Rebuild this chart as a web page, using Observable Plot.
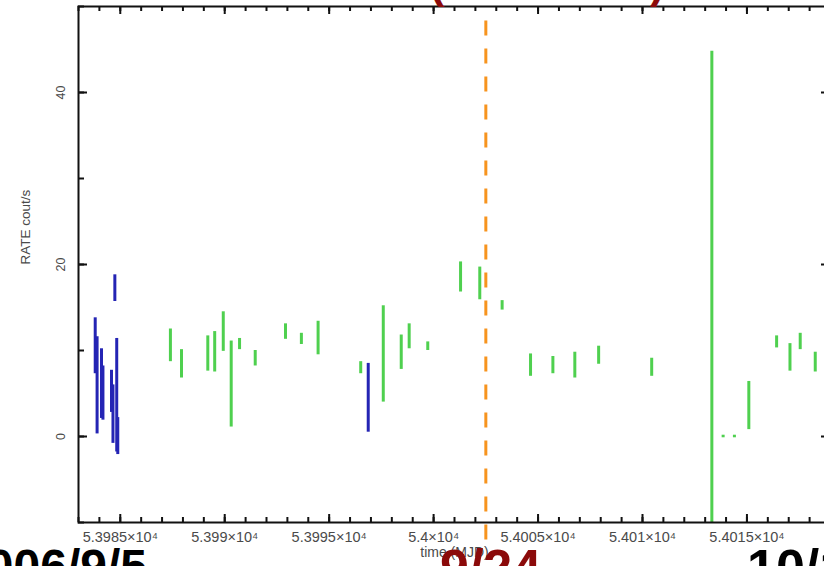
<!DOCTYPE html>
<html>
<head>
<meta charset="utf-8">
<script src="https://cdn.jsdelivr.net/npm/d3@7"></script>
<script src="https://cdn.jsdelivr.net/npm/@observablehq/plot@0.6"></script>
<style>
  html, body { margin: 0; padding: 0; background: #fff; overflow: hidden; width: 824px; height: 566px; }
  #wrap { position: relative; width: 824px; height: 566px; overflow: hidden; }
  #wrap svg { position: absolute; left: 0; top: 0; }
  .big { position: absolute; font-family: "Liberation Sans", Arial, sans-serif; font-weight: bold;
         font-size: 52px; line-height: 52px; white-space: nowrap; }
</style>
</head>
<body>
<div id="wrap"></div>
<script>
// Light curve: count rate (counts/s) vs. time (MJD), error bars only
const blueTime = [53983.80, 53983.89, 53984.10, 53984.17, 53984.58, 53984.65, 53984.74, 53984.83, 53984.88, 53996.87];
const blueLo   = [7.3, 0.3, 2.1, 1.9, 2.8, -0.8, 15.7, -1.8, -2.1, 0.5];
const blueHi   = [13.8, 11.6, 10.2, 8.2, 7.7, 6.0, 18.8, 11.4, 2.2, 8.5];

const greenTime = [53987.40, 53987.93, 53989.19, 53989.52, 53989.93, 53990.31, 53990.71, 53991.46,
                   53992.91, 53993.67, 53994.47, 53996.51, 53997.59, 53998.45, 53998.83, 53999.72,
                   54001.29, 54002.21, 54003.28, 54004.64, 54005.71, 54006.76, 54007.90, 54010.44,
                   54013.32, 54013.86, 54014.40, 54015.09, 54016.42, 54017.06, 54017.55, 54018.27];
const greenLo   = [8.7, 6.8, 7.6, 7.5, 9.9, 1.1, 10.1, 8.2,
                   11.3, 10.7, 9.5, 7.3, 4.0, 7.8, 10.2, 10.0,
                   16.8, 15.9, 14.7, 7.0, 7.3, 6.8, 8.4, 7.0,
                   -10.0, -0.15, -0.15, 0.8, 10.3, 7.6, 10.1, 7.5];
const greenHi   = [12.5, 10.1, 11.7, 12.2, 14.5, 11.1, 11.4, 10.0,
                   13.1, 12.0, 13.4, 8.7, 15.2, 11.8, 13.1, 11.0,
                   20.3, 19.7, 15.8, 9.6, 9.3, 9.8, 10.5, 9.1,
                   44.8, 0.15, 0.15, 6.4, 11.7, 10.8, 12.0, 9.8];

// Date marker (2006/9/24) and its vertical extent
const markerMJD = 54002.5;
const markerTop = 48.3, markerBottom = -12.3;

// Axes
const xDomain = [53983, 54019];
const yDomain = [-10, 50];
const xMinor = d3.range(53983, 54020, 1);
const xMajor = d3.range(53985, 54020, 5);
const yMinor = d3.range(-10, 51, 10);
const yMajor = [0, 20, 40];

const W = 836, H = 566, mL = 78, mR = 6, mT = 6, mB = 44;
const fW = W - mL - mR, fH = H - mT - mB;
const ink = "#111";
const labelInk = "#4a4a4a";

const chart = Plot.plot({
  width: W, height: H,
  marginLeft: mL, marginRight: mR, marginTop: mT, marginBottom: mB,
  x: {domain: xDomain, axis: null},
  y: {domain: yDomain, axis: null},
  style: {fontFamily: "Liberation Sans, Arial, sans-serif", background: "white", maxWidth: "none", overflow: "visible"},
  marks: [
    Plot.ruleX(greenTime, {x: d => d, y1: (d, i) => greenLo[i], y2: (d, i) => greenHi[i], stroke: "#4fd04f", strokeWidth: 3}),
    Plot.ruleX(blueTime, {x: d => d, y1: (d, i) => blueLo[i], y2: (d, i) => blueHi[i], stroke: "#2424b4", strokeWidth: 3}),
    Plot.frame({stroke: ink, strokeWidth: 2}),
    // inward ticks, bottom and top
    Plot.tickX(xMinor, {x: d => d, insetTop: fH - 5, stroke: ink, strokeWidth: 2}),
    Plot.tickX(xMajor, {x: d => d, insetTop: fH - 8, stroke: ink, strokeWidth: 2}),
    Plot.tickX(xMinor, {x: d => d, insetBottom: fH - 5, stroke: ink, strokeWidth: 2}),
    Plot.tickX(xMajor, {x: d => d, insetBottom: fH - 8, stroke: ink, strokeWidth: 2}),
    // inward ticks, left and right
    Plot.tickY(yMinor, {y: d => d, insetRight: fW - 6, stroke: ink, strokeWidth: 2}),
    Plot.tickY(yMajor, {y: d => d, insetRight: fW - 9, stroke: ink, strokeWidth: 2}),
    Plot.tickY(yMinor, {y: d => d, insetLeft: fW - 6, stroke: ink, strokeWidth: 2}),
    Plot.tickY(yMajor, {y: d => d, insetLeft: fW - 9, stroke: ink, strokeWidth: 2}),
    // tick labels
    Plot.text(xMajor, {x: d => d, y: yDomain[0], dy: 15, text: d => `${d / 1e4}×10⁴`, fontSize: 14.5, fill: labelInk}),
    Plot.text(yMajor, {x: xDomain[0], y: d => d, dx: -18, rotate: -90, text: d => String(d), fontSize: 12.5, fill: labelInk}),
    // axis titles
    Plot.text(["RATE cout/s"], {frameAnchor: "left", dx: -53, rotate: -90, text: d => d, fontSize: 13.5, fill: labelInk}),
    Plot.text(["time (MJD)"], {frameAnchor: "bottom", dy: 34, text: d => d, fontSize: 14, fill: labelInk}),
    // dashed date marker
    Plot.ruleX([markerMJD], {x: d => d, y1: markerTop, y2: markerBottom, stroke: "#f7941e", strokeWidth: 3, strokeDasharray: "15,13"})
  ]
});

const wrap = document.getElementById("wrap");
wrap.appendChild(chart);

// Date captions around the light curve
const captions = [
  {text: "(Swift XRT)", color: "#8b0a0a", style: "left:547px; top:-39px; font-size:44px; line-height:44px; transform:translateX(-50%);"},
  {text: "2006/9/5", color: "#000", style: "right:677px; top:543px; font-size:48px; line-height:48px;"},
  {text: "9/24", color: "#8b0a0a", style: "left:440px; top:542px;"},
  {text: "10/11", color: "#000", style: "left:747px; top:542px;"}
];
for (const c of captions) {
  const el = document.createElement("div");
  el.className = "big";
  el.textContent = c.text;
  el.style.cssText += c.style + "color:" + c.color + ";";
  wrap.appendChild(el);
}
</script>
</body>
</html>
